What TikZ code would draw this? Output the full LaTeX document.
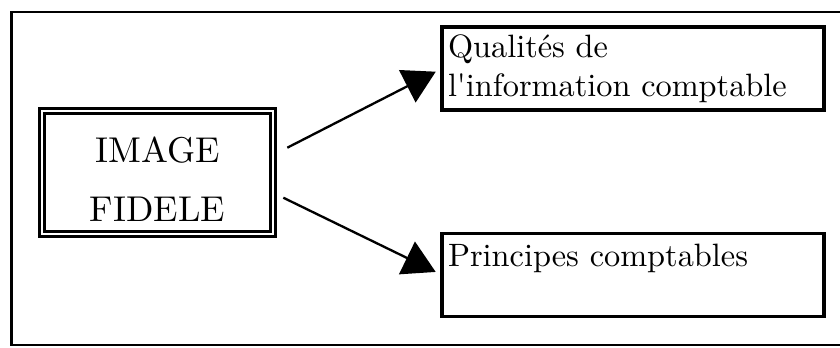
\documentclass[tikz,border=0pt]{standalone}
\usepackage{fontspec}
\setmainfont{lmroman10-regular.otf}
\usepackage{tikz}
\usetikzlibrary{arrows.meta}
\tikzset{
  caja/.style={draw, line width=0.083cm, outer sep=0pt, inner xsep=0.15cm,
    text width=9.25cm, align=left, minimum width=9.55cm, minimum height=2.075cm,
    font=\fontsize{23}{27.7}\selectfont},
  flecha/.style={line width=0.058cm, -{Triangle[length=0.8cm, width=0.9cm]},
    shorten >=0.175cm}
}

\begin{document}
\begin{tikzpicture}
  \useasboundingbox (0,0) rectangle (21,8.675);
  % Outer frame (open on the right)
  \draw[line width=0.06cm]
    (21,8.3825) -- (0.2825,8.3825) -- (0.2825,0.0575) -- (21,0.0575);
  % Left double box
  \node[draw, double, line width=0.075cm, double distance=0.05cm, outer sep=0pt,
    minimum width=5.795cm, minimum height=3.075cm, align=center,
    font=\fontsize{25.5}{41.9}\selectfont] (fidele) at (3.935,4.355)
    {\rule{0pt}{0.94cm}IMAGE\\FIDELE};
  % Right boxes
  \node[caja] (qualites) at (15.825,6.9625)
    {Qualités de\\l\textquotesingle information comptable};
  \node[caja] (principes) at (15.825,1.8)
    {Principes comptables\\\mbox{}};
  % Arrows
  \draw[flecha] ([xshift=0.35cm, yshift=0.6275cm]fidele.east) -- (qualites.west);
  \draw[flecha] ([xshift=0.25cm, yshift=-0.6225cm]fidele.east) -- (principes.west);
\end{tikzpicture}
\end{document}
